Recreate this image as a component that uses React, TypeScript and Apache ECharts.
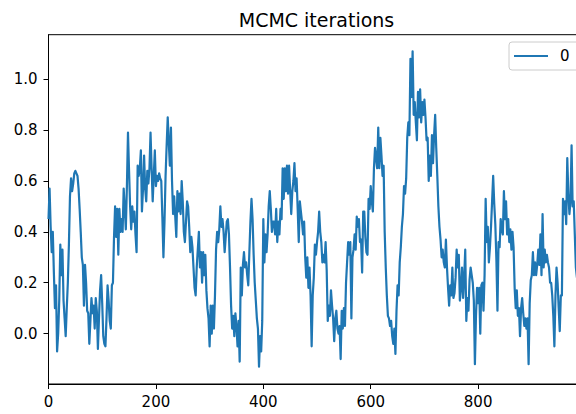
import { useEffect, useRef } from "react";
import * as echarts from "echarts";

// Trace of one MCMC chain, recorded every `thinning` iterations.
const seriesName = "0";
const chartTitle = "MCMC iterations";
const thinning = 2;
const chainValues = [
  0.45, 0.57, 0.42, 0.32, 0.40, 0.24, 0.10, 0.19, -0.07, 0.00,
  0.13, 0.35, 0.23, 0.33, 0.13, 0.06, -0.01, 0.10, 0.20, 0.35,
  0.54, 0.61, 0.56, 0.59, 0.63, 0.64, 0.63, 0.62, 0.57, 0.49,
  0.40, 0.30, 0.27, 0.11, 0.27, 0.20, 0.09, 0.08, -0.04, 0.05,
  0.14, 0.08, 0.11, 0.02, 0.14, 0.09, -0.06, 0.06, 0.17, 0.23,
  0.12, -0.01, -0.04, -0.05, 0.06, 0.19, 0.13, 0.05, 0.02, 0.19,
  0.20, 0.38, 0.50, 0.38, 0.49, 0.31, 0.49, 0.40, 0.45, 0.40,
  0.57, 0.49, 0.41, 0.58, 0.79, 0.64, 0.50, 0.41, 0.50, 0.44,
  0.48, 0.39, 0.32, 0.66, 0.62, 0.65, 0.72, 0.48, 0.57, 0.70,
  0.57, 0.52, 0.64, 0.59, 0.65, 0.79, 0.65, 0.52, 0.62, 0.72,
  0.58, 0.62, 0.60, 0.63, 0.61, 0.60, 0.46, 0.30, 0.44, 0.62,
  0.74, 0.85, 0.75, 0.66, 0.81, 0.60, 0.47, 0.54, 0.46, 0.38,
  0.56, 0.48, 0.55, 0.47, 0.60, 0.52, 0.40, 0.36, 0.44, 0.52,
  0.50, 0.42, 0.32, 0.38, 0.34, 0.26, 0.18, 0.15, 0.26, 0.33,
  0.40, 0.26, 0.32, 0.20, 0.32, 0.23, 0.31, 0.17, 0.10, 0.06,
  -0.05, 0.11, 0.00, 0.11, 0.02, 0.15, 0.33, 0.40, 0.36, 0.41,
  0.50, 0.42, 0.45, 0.40, 0.32, 0.38, 0.44, 0.45, 0.39, 0.26,
  0.11, 0.02, 0.07, -0.01, 0.08, 0.03, -0.05, 0.05, -0.11, 0.26,
  0.15, 0.27, 0.32, 0.26, 0.28, 0.23, 0.19, 0.32, 0.44, 0.53,
  0.45, 0.31, 0.20, 0.13, 0.06, 0.02, -0.13, -0.01, -0.07, 0.05,
  0.45, 0.28, 0.39, 0.32, 0.39, 0.50, 0.56, 0.49, 0.40, 0.44,
  0.44, 0.39, 0.49, 0.36, 0.44, 0.39, 0.49, 0.45, 0.65, 0.53,
  0.65, 0.56, 0.66, 0.55, 0.66, 0.56, 0.47, 0.56, 0.60, 0.67,
  0.56, 0.61, 0.49, 0.36, 0.52, 0.48, 0.44, 0.39, 0.44, 0.30,
  0.22, 0.30, 0.18, 0.26, 0.15, -0.05, 0.15, 0.22, 0.35, 0.31,
  0.36, 0.40, 0.48, 0.40, 0.36, 0.28, 0.31, 0.28, 0.36, 0.25,
  0.05, 0.11, 0.07, 0.17, 0.11, 0.06, -0.03, 0.06, 0.09, 0.02,
  0.00, 0.03, -0.10, 0.09, 0.02, 0.10, 0.03, 0.20, 0.28, 0.36,
  0.31, 0.36, 0.06, 0.30, 0.33, 0.39, 0.33, 0.46, 0.42, 0.45,
  0.36, 0.37, 0.24, 0.48, 0.48, 0.38, 0.32, 0.31, 0.53, 0.49,
  0.58, 0.52, 0.48, 0.65, 0.73, 0.69, 0.65, 0.81, 0.65, 0.77,
  0.70, 0.62, 0.66, 0.40, 0.26, 0.15, 0.07, 0.06, 0.03, 0.05,
  -0.01, -0.04, 0.02, -0.08, 0.09, 0.19, 0.15, 0.28, 0.34, 0.42,
  0.47, 0.58, 0.55, 0.61, 0.77, 0.83, 0.78, 1.08, 0.93, 1.11,
  0.86, 0.91, 0.83, 0.76, 0.95, 0.85, 0.96, 0.83, 0.91, 0.86,
  0.92, 0.85, 0.76, 0.77, 0.60, 0.70, 0.62, 0.78, 0.67, 0.78,
  0.86, 0.73, 0.62, 0.50, 0.42, 0.37, 0.30, 0.33, 0.28, 0.26,
  0.37, 0.26, 0.18, 0.11, 0.19, 0.15, 0.26, 0.14, 0.16, 0.22,
  0.33, 0.26, 0.31, 0.13, 0.18, 0.26, 0.14, 0.22, 0.33, 0.05,
  0.14, 0.09, 0.21, 0.26, 0.23, 0.20, 0.13, -0.12, 0.07, 0.18,
  0.12, 0.18, 0.00, 0.19, 0.20, 0.09, 0.23, 0.53, 0.36, 0.42,
  0.28, 0.34, 0.42, 0.52, 0.62, 0.51, 0.43, 0.29, 0.09, 0.36,
  0.34, 0.45, 0.41, 0.39, 0.56, 0.45, 0.52, 0.39, 0.45, 0.36,
  0.41, 0.33, 0.40, 0.34, 0.18, 0.10, 0.17, 0.07, 0.10, -0.01,
  0.10, 0.14, 0.08, 0.03, 0.06, 0.02, 0.06, -0.12, 0.12, 0.21,
  0.23, 0.32, 0.23, 0.28, 0.23, 0.27, 0.33, 0.27, 0.39, 0.23,
  0.47, 0.26, 0.33, 0.28, 0.31, 0.28, 0.26, 0.20, 0.20, 0.15,
  0.07, -0.05, 0.15, 0.26, 0.20, 0.10, 0.01, 0.15, 0.15, 0.53,
  0.47, 0.52, 0.43, 0.69, 0.55, 0.47, 0.52, 0.74, 0.50, 0.52,
  0.39, 0.26, 0.22,
];

const xTicks = [0, 200, 400, 600, 800];
const yTicks = [0, 0.2, 0.4, 0.6, 0.8, 1.0];
const xRange = [0, 999];
const yRange = [-0.198, 1.175];

const FONT = "DejaVu Sans";
const INK = "#000";
const LINE_BLUE = "#1f77b4";

export default function App() {
  const ref = useRef<HTMLDivElement>(null);

  useEffect(() => {
    if (!ref.current) return;
    const chart = echarts.init(ref.current, null, { renderer: "svg" });

    const points = chainValues.map((v, i) => [i * thinning, v]);

    const spine = { color: INK, width: 1 };

    chart.setOption({
      animation: false,
      backgroundColor: "#fff",
      textStyle: { fontFamily: FONT },
      title: {
        text: chartTitle,
        left: 316.5,
        top: 10.5,
        padding: 0,
        textAlign: "center",
        textStyle: {
          fontFamily: FONT,
          fontSize: 19,
          fontWeight: "normal",
          color: INK,
        },
      },
      legend: {
        data: [seriesName],
        left: 509,
        top: 42,
        orient: "vertical",
        icon: "rect",
        itemWidth: 34,
        itemHeight: 2.2,
        padding: [6.5, 12, 6.5, 5],
        backgroundColor: "rgba(255,255,255,0.8)",
        borderColor: "#cccccc",
        borderWidth: 1,
        borderRadius: 3,
        textStyle: {
          fontFamily: FONT,
          fontSize: 15,
          lineHeight: 15,
          color: INK,
          padding: [0, 0, 0, 7],
        },
      },
      grid: {
        left: 48.5,
        right: -9,
        top: 34.7,
        bottom: 30,
        show: true,
        borderColor: INK,
        borderWidth: 1,
        backgroundColor: "#fff",
        containLabel: false,
        outerBoundsMode: "none",
      },
      xAxis: {
        type: "value",
        min: xRange[0],
        max: xRange[1],
        position: "bottom",
        axisLine: { show: true, onZero: false, lineStyle: spine },
        axisTick: {
          show: true,
          inside: false,
          length: 5,
          customValues: xTicks,
          lineStyle: spine,
        },
        axisLabel: {
          customValues: xTicks,
          margin: 10,
          fontFamily: FONT,
          fontSize: 15,
          color: INK,
          formatter: (v: number) => String(Math.round(v)),
        },
        splitLine: { show: false },
      },
      yAxis: {
        type: "value",
        min: yRange[0],
        max: yRange[1],
        axisLine: { show: true, onZero: false, lineStyle: spine },
        axisTick: {
          show: true,
          inside: false,
          length: 5,
          customValues: yTicks,
          lineStyle: spine,
        },
        axisLabel: {
          customValues: yTicks,
          margin: 11,
          fontFamily: FONT,
          fontSize: 15,
          color: INK,
          formatter: (v: number) => v.toFixed(1),
        },
        splitLine: { show: false },
      },
      series: [
        {
          name: seriesName,
          type: "line",
          data: points,
          showSymbol: false,
          symbol: "none",
          color: LINE_BLUE,
          lineStyle: { color: LINE_BLUE, width: 2.2, join: "round" },
          clip: true,
        },
      ],
    });

    return () => chart.dispose();
  }, []);

  return (
    <div
      ref={ref}
      style={{ position: "absolute", left: 0, top: 0, width: 576, height: 414 }}
    />
  );
}
